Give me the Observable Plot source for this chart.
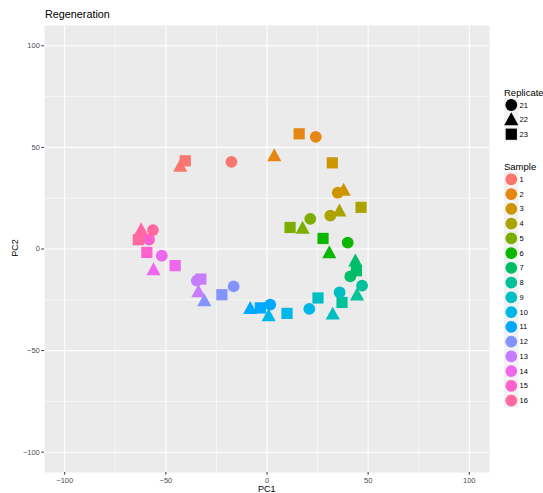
<!DOCTYPE html>
<html>
<head>
<meta charset="utf-8">
<script src="https://cdn.jsdelivr.net/npm/d3@7"></script>
<script src="https://cdn.jsdelivr.net/npm/@observablehq/plot@0.6"></script>
<style>
  body { margin: 0; background: #fff; }
  #wrap { position: relative; width: 543px; height: 493px; font-family: "Liberation Sans", Arial, sans-serif; }
  #wrap > svg { position: absolute; left: 0; top: 0; }
</style>
</head>
<body>
<div id="wrap"></div>
<script>
// ---- data ----
const samples = ["1","2","3","4","5","6","7","8","9","10","11","12","13","14","15","16"];
const sampleColors = ["#F8766D","#E68613","#CD9600","#ABA300","#7CAE00","#0CB702","#00BE67","#00C19A",
                      "#00BFC4","#00B8E7","#00A9FF","#8494FF","#C77CFF","#ED68ED","#FF61CC","#FF68A1"];
const replicates = ["21","22","23"];
const xTicks = [-100, -50, 0, 50, 100];
const yTicks = [-100, -50, 0, 50, 100];
const minorTicks = [-75, -25, 25, 75];

const pointSample    = ["1","1","1","2","2","2","3","3","3","4","4","4","5","5","5","6","6","6","7","7","7","8","8","8",
                        "9","9","9","10","10","10","11","11","11","12","12","12","13","13","13","14","14","14","15","15","15","16","16","16"];
const pointReplicate = ["21","22","23","21","22","23","21","22","23","21","22","23","21","22","23","21","22","23","21","22","23","21","22","23",
                        "21","22","23","21","22","23","21","22","23","21","22","23","21","22","23","21","22","23","21","22","23","21","22","23"];
const pc1 = [-17.6,-42.9,-40.4, 24.1,3.6,15.9, 35.0,37.9,32.3, 31.3,35.8,46.5, 21.4,17.6,11.4, 39.9,30.8,27.7,
             41.2,43.7,44.2, 47.0,44.5,37.1, 35.9,32.5,25.2, 20.9,0.8,9.9, 1.6,-8.3,-3.3, -16.5,-31.0,-22.3,
             -34.7,-33.9,-32.7, -52.0,-56.1,-45.4, -58.3,-62.0,-59.4, -56.4,-62.2,-63.6];
const pc2 = [42.9,40.8,43.4, 55.2,45.9,56.7, 27.7,29.0,42.4, 16.4,18.8,20.5, 14.8,10.3,10.6, 3.1,-1.8,5.2,
             -13.5,-5.8,-10.7, -18.0,-22.6,-26.3, -21.3,-32.0,-24.1, -29.5,-32.8,-31.7, -27.4,-29.2,-29.0, -18.4,-25.4,-22.5,
             -15.6,-21.0,-14.8, -3.3,-10.2,-8.2, 4.6,8.0,-1.7, 9.3,9.5,4.6];

const title = "Regeneration";
const xLabel = "PC1";
const yLabel = "PC2";

const points = pc1.map((x, i) => ({PC1: x, PC2: pc2[i], sample: pointSample[i], replicate: pointReplicate[i]}));

// ---- symbols (ggplot shapes 16, 17, 15) ----
const circleSym = {draw(ctx, size) { const r = Math.sqrt(size / Math.PI); ctx.moveTo(r, 0); ctx.arc(0, 0, r, 0, 2 * Math.PI); }};
const triSym = {draw(ctx, size) { const r = Math.sqrt(size / Math.PI);
  ctx.moveTo(0, -1.25 * r); ctx.lineTo(1.2 * r, 0.95 * r); ctx.lineTo(-1.2 * r, 0.95 * r); ctx.closePath(); }};
const sqSym = {draw(ctx, size) { const r = Math.sqrt(size / Math.PI); const h = 0.95 * r; ctx.rect(-h, -h, 2 * h, 2 * h); }};
const symbols = [circleSym, triSym, sqSym];

const W = 543, H = 493;
const R = 5.9;

const chart = Plot.plot({
  width: W, height: H,
  marginLeft: 44, marginRight: 54, marginTop: 25, marginBottom: 21,
  style: {fontFamily: "Liberation Sans, Arial, sans-serif", background: "transparent"},
  x: {domain: [-110, 110]},
  y: {domain: [-110, 110]},
  color: {type: "ordinal", domain: samples, range: sampleColors},
  symbol: {domain: replicates, range: symbols},
  marks: [
    Plot.frame({fill: "#EBEBEB", stroke: null}),
    Plot.gridX(minorTicks, {stroke: "#fff", strokeOpacity: 1, strokeWidth: 0.55}),
    Plot.gridY(minorTicks, {stroke: "#fff", strokeOpacity: 1, strokeWidth: 0.55}),
    Plot.gridX(xTicks, {stroke: "#fff", strokeOpacity: 1, strokeWidth: 1.1}),
    Plot.gridY(yTicks, {stroke: "#fff", strokeOpacity: 1, strokeWidth: 1.1}),
    Plot.axisX(xTicks, {tickSize: 2.7, tickPadding: 2, fontSize: 7.5, stroke: "#333", fill: "#4D4D4D", label: null}),
    Plot.axisY(yTicks, {tickSize: 2.7, tickPadding: 2, fontSize: 7.5, stroke: "#333", fill: "#4D4D4D", label: null}),
    Plot.dot(points, {x: "PC1", y: "PC2", fill: "sample", symbol: "replicate", r: R, stroke: null})
  ]
});
const wrap = document.getElementById("wrap");
wrap.appendChild(chart);

// ---- texts + legends ----
const svg = d3.select(wrap).append("svg").attr("width", W).attr("height", H)
  .style("position", "absolute").style("left", 0).style("top", 0)
  .style("font-family", "Liberation Sans, Arial, sans-serif");

svg.append("text").attr("x", 45).attr("y", 18.3).attr("font-size", 10.8).text(title);
svg.append("text").attr("x", 266.7).attr("y", 491.5).attr("text-anchor", "middle").attr("font-size", 9).text(xLabel);
svg.append("text").attr("transform", "translate(17.5,248) rotate(-90)").attr("text-anchor", "middle").attr("font-size", 9).text(yLabel);

const keyX = 504, keyW = 14.6, keyStep = 14.75;
function symPath(sym) { const p = d3.path(); sym.draw(p, Math.PI * R * R); return p.toString(); }

svg.append("text").attr("x", keyX).attr("y", 96).attr("font-size", 9.5).text("Replicate");
replicates.forEach((rp, i) => {
  const cy = 105 + i * 14.6;
  svg.append("rect").attr("x", keyX).attr("y", cy - keyW / 2).attr("width", keyW).attr("height", keyW).attr("fill", "#F2F2F2");
  svg.append("path").attr("d", symPath(symbols[i])).attr("transform", `translate(${keyX + keyW / 2},${cy})`).attr("fill", "#000");
  svg.append("text").attr("x", 519.5).attr("y", cy).attr("dy", "0.35em").attr("font-size", 7.5).text(rp);
});

svg.append("text").attr("x", keyX).attr("y", 169.5).attr("font-size", 9.5).text("Sample");
samples.forEach((s, i) => {
  const cy = 179.3 + i * keyStep;
  svg.append("rect").attr("x", keyX).attr("y", cy - keyW / 2).attr("width", keyW).attr("height", keyW).attr("fill", "#F2F2F2");
  svg.append("circle").attr("cx", keyX + keyW / 2).attr("cy", cy).attr("r", R).attr("fill", sampleColors[i]);
  svg.append("text").attr("x", 519.5).attr("y", cy).attr("dy", "0.35em").attr("font-size", 7.5).text(s);
});
</script>
</body>
</html>
